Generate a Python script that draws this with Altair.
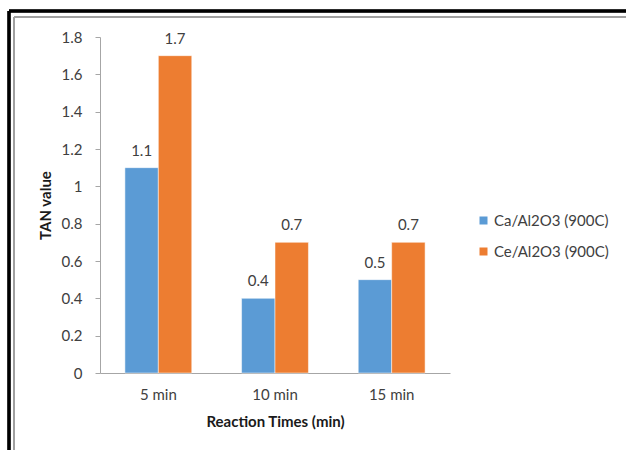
import altair as alt
import pandas as pd

categories = ["5 min", "10 min", "15 min"]
series_names = ["Ca/Al2O3 (900C)", "Ce/Al2O3 (900C)"]
ca_values = [1.1, 0.4, 0.5]
ce_values = [1.7, 0.7, 0.7]
colors = ["#5B9BD5", "#ED7D31"]
y_ticks = [0, 0.2, 0.4, 0.6, 0.8, 1.0, 1.2, 1.4, 1.6, 1.8]

rows = []
for c, v in zip(categories, ca_values):
    rows.append({"time": c, "series": series_names[0], "value": v})
for c, v in zip(categories, ce_values):
    rows.append({"time": c, "series": series_names[1], "value": v})
df = pd.DataFrame(rows)

FONT = "Lato"
FS = 15

x_enc = alt.X(
    "time:N",
    sort=categories,
    scale=alt.Scale(paddingInner=0.427, paddingOuter=0.2135),
    axis=alt.Axis(
        title="Reaction Times (min)",
        labelAngle=0,
        ticks=False,
        labelPadding=14,
        labelFontSize=FS,
        labelColor="#404040",
        titleFontSize=FS,
        titleFontWeight="bold",
        titleColor="#1a1a1a",
        titlePadding=12,
        domainColor="#A6A6A6",
        domainWidth=1,
        labelFont=FONT,
        titleFont=FONT,
    ),
)
xoff_enc = alt.XOffset("series:N", sort=series_names, scale=alt.Scale(paddingInner=0, paddingOuter=0))
y_enc = alt.Y(
    "value:Q",
    scale=alt.Scale(domain=[0, 1.8], nice=False),
    axis=alt.Axis(
        title="TAN value",
        values=y_ticks,
        format=".1~f",
        grid=False,
        labelOverlap=False,
        labelFlush=False,
        tickSize=5,
        tickColor="#A6A6A6",
        domainColor="#A6A6A6",
        labelPadding=13,
        labelFontSize=FS,
        labelColor="#404040",
        titleFontSize=FS,
        titleFontWeight="bold",
        titleColor="#1a1a1a",
        titlePadding=8,
        labelFont=FONT,
        titleFont=FONT,
    ),
)

base = alt.Chart(df).encode(x=x_enc, xOffset=xoff_enc, y=y_enc)

bars = base.mark_bar(stroke="white", strokeWidth=0.5).encode(
    color=alt.Color(
        "series:N",
        sort=series_names,
        scale=alt.Scale(domain=series_names, range=colors),
        legend=alt.Legend(
            title=None,
            orient="none",
            legendX=376,
            legendY=176,
            symbolType="square",
            symbolSize=64,
            symbolStrokeWidth=0,
            labelFontSize=FS,
            labelFont=FONT,
            labelColor="#404040",
            labelOffset=3,
            rowPadding=15,
            padding=0,
        ),
    ),
)

labels = base.mark_text(
    baseline="bottom", dy=-9, fontSize=FS, font=FONT, color="#404040"
).encode(
    text=alt.Text("value:Q", format=".1f"),
)

frame_top = alt.Chart(df).mark_rule(color="black", strokeWidth=2.5, clip=False).encode(
    x=alt.value(-91), x2=alt.value(530), y=alt.value(-26)
)
frame_left = alt.Chart(df).mark_rule(color="black", strokeWidth=2.5, clip=False).encode(
    x=alt.value(-91), y=alt.value(-26), y2=alt.value(420)
)
inner_top = alt.Chart(df).mark_rule(color="#A0A0A0", strokeWidth=1.5, clip=False).encode(
    x=alt.value(-86), x2=alt.value(530), y=alt.value(-20)
)
inner_left = alt.Chart(df).mark_rule(color="#A0A0A0", strokeWidth=1.5, clip=False).encode(
    x=alt.value(-86), y=alt.value(-20), y2=alt.value(420)
)

chart = alt.layer(bars, labels, frame_top, frame_left, inner_top, inner_left).properties(
    width=350,
    height=336,
    autosize=alt.AutoSizeParams(type="none"),
    padding={"left": 100, "top": 37, "right": 176, "bottom": 77},
    background="white",
).configure_view(stroke=None)

chart.save("out.html", embed_options={"renderer": "svg", "actions": False})
